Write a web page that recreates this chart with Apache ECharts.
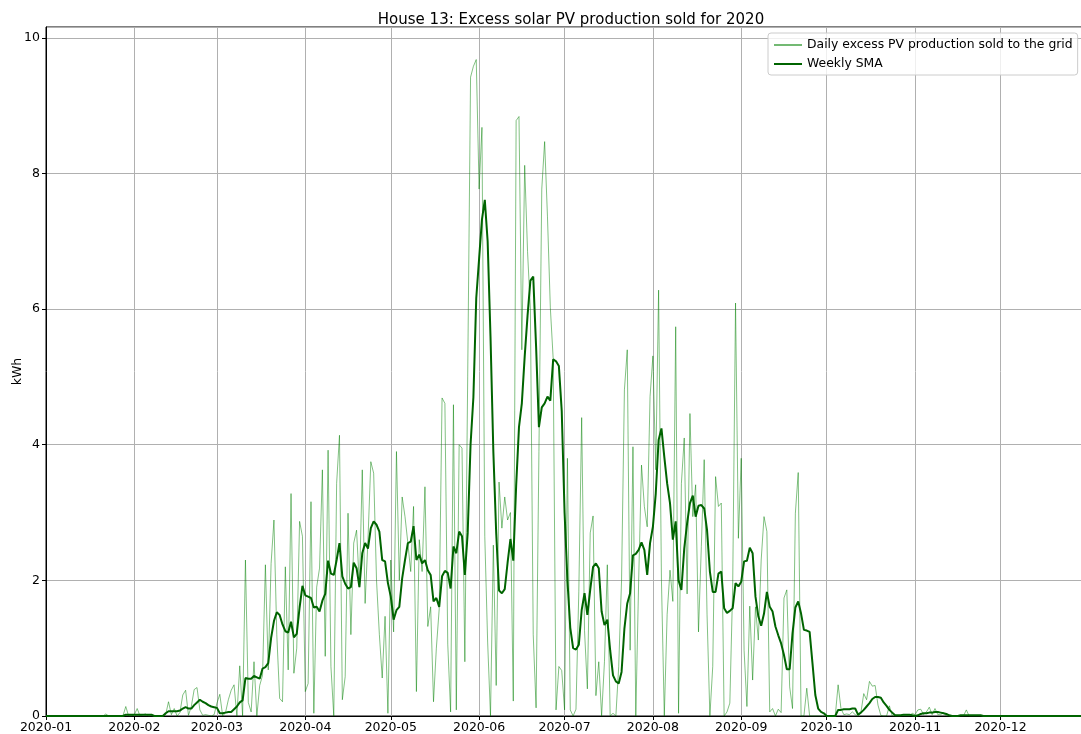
<!DOCTYPE html>
<html lang="en">
<head>
  <meta charset="UTF-8">
  <title>House 13: Excess solar PV production sold for 2020</title>
  <script src="https://cdn.jsdelivr.net/npm/echarts@6/dist/echarts.min.js"></script>
  <style>
    html, body { margin: 0; padding: 0; background: #fff; }
    #chart { width: 1081px; height: 734px; }
  </style>
</head>
<body>
<div id="chart"></div>
<script>
// one value per day, 2020-01-01 .. 2020-12-31 (kWh)
const dailySold = [
  0, 0, 0, 0, 0, 0, 0, 0, 0, 0,                              // 0
  0, 0, 0, 0, 0, 0, 0, 0, 0, 0,                              // 10
  0, 0.03, 0, 0, 0, 0, 0, 0, 0.14, 0,                        // 20
  0, 0.02, 0.11, 0, 0.02, 0.03, 0, 0, 0, 0,                  // 30
  0, 0, 0.02, 0.21, 0.02, 0.11, 0, 0.05, 0.31, 0.38,         // 40
  0.01, 0.14, 0.39, 0.42, 0.09, 0.01, 0.02, 0.01, 0, 0.02,   // 50
  0.19, 0.32, 0, 0.05, 0.24, 0.38, 0.46, 0, 0.74, 0,         // 60
  2.3, 0.2, 0.06, 0.8, 0, 0.45, 0.6, 2.23, 0.68, 2.25,       // 70
  2.89, 1.2, 0.26, 0.21, 2.2, 0.68, 3.28, 0.63, 1.0, 2.87,   // 80
  2.65, 0.36, 0.48, 3.16, 0.04, 1.9, 2.18, 3.63, 0.88, 3.92, // 90
  0.73, 0, 3.43, 4.14, 0.24, 0.58, 2.99, 1.2, 2.55, 2.74,    // 100
  1.9, 3.63, 1.66, 2.6, 3.75, 3.58, 2.0, 1.2, 0.56, 1.47,    // 110
  0.04, 2.3, 1.24, 3.9, 2.0, 3.23, 2.94, 2.55, 2.13, 3.09,   // 120
  0.36, 2.6, 2.13, 3.38, 1.32, 1.61, 0.21, 1.0, 1.58, 4.69,  // 130
  4.61, 1.06, 0.06, 4.59, 0.09, 4.0, 3.95, 0.8, 5.0, 9.42,   // 140
  9.58, 9.68, 7.77, 8.68, 2.65, 1.09, 0, 2.52, 0.45, 3.45,   // 150
  2.77, 3.23, 2.89, 3.0, 0.22, 8.78, 8.84, 5.4, 8.12, 6.85,  // 160
  6.0, 1.2, 0.12, 3.9, 7.77, 8.47, 7.36, 6.02, 5.27, 0.09,   // 170
  0.73, 0.67, 0.09, 3.8, 0.09, 0, 0.1, 1.84, 4.4, 1.26,      // 180
  0.4, 2.7, 2.95, 0.3, 0.8, 0, 0.8, 2.23, 0, 0.04,           // 190
  0, 0.73, 2.0, 4.81, 5.4, 0.97, 3.97, 0, 2.0, 3.7,          // 200
  3.09, 2.79, 4.71, 5.31, 3.63, 6.28, 2.0, 0, 1.5, 2.15,     // 210
  1.69, 5.74, 0.04, 3.43, 4.1, 1.8, 4.46, 2.94, 3.41, 1.24,  // 220
  2.5, 3.78, 1.5, 0, 0.73, 3.53, 3.09, 3.14, 0, 0.06,        // 230
  0.19, 1.9, 6.09, 2.62, 3.8, 0.97, 0.14, 1.62, 0.53, 1.61,  // 240
  1.12, 2.3, 2.94, 2.72, 0.06, 0.11, 0, 0.1, 0.05, 1.74,     // 250
  1.86, 0.43, 0.11, 2.99, 3.59, 0, 0, 0.41, 0, 0,            // 260
  0, 0, 0, 0, 0, 0, 0, 0, 0.46, 0.11,                        // 270
  0.02, 0.03, 0.02, 0.06, 0.02, 0, 0.05, 0.33, 0.24, 0.51,   // 280
  0.44, 0.45, 0.16, 0.01, 0, 0, 0.15, 0, 0, 0,               // 290
  0, 0, 0, 0, 0.04, 0.02, 0.09, 0.1, 0.02, 0.06,             // 300
  0.13, 0.02, 0.11, 0.02, 0.02, 0.05, 0, 0, 0, 0,            // 310
  0, 0, 0, 0.09, 0, 0, 0, 0, 0, 0,                           // 320
  0, 0, 0, 0, 0, 0, 0, 0, 0, 0,                              // 330
  0, 0, 0, 0, 0, 0, 0, 0, 0, 0,                              // 340
  0, 0, 0, 0, 0, 0, 0, 0, 0, 0,                              // 350
  0, 0, 0, 0, 0, 0                                           // 360
];

// weekly simple moving average
const weeklySma = [
  0, 0, 0, 0, 0, 0, 0, 0, 0, 0,                              // 0
  0, 0, 0, 0, 0, 0, 0, 0, 0, 0,                              // 10
  0, 0, 0, 0, 0, 0, 0, 0, 0.02, 0.02,                        // 20
  0.02, 0.02, 0.02, 0.02, 0.02, 0.02, 0.02, 0.02, 0, 0,      // 30
  0, 0, 0.04, 0.07, 0.07, 0.07, 0.07, 0.08, 0.11, 0.13,      // 40
  0.11, 0.11, 0.16, 0.2, 0.24, 0.21, 0.19, 0.16, 0.14, 0.13, // 50
  0.12, 0.04, 0.04, 0.05, 0.06, 0.06, 0.1, 0.14, 0.2, 0.23,  // 60
  0.56, 0.55, 0.55, 0.59, 0.57, 0.55, 0.7, 0.72, 0.78, 1.15, // 70
  1.4, 1.53, 1.49, 1.35, 1.25, 1.23, 1.39, 1.16, 1.21, 1.6,  // 80
  1.92, 1.78, 1.76, 1.74, 1.6, 1.61, 1.54, 1.7, 1.8, 2.29,   // 90
  2.1, 2.08, 2.3, 2.55, 2.06, 1.95, 1.88, 1.9, 2.26, 2.18,   // 100
  1.9, 2.4, 2.55, 2.47, 2.77, 2.87, 2.82, 2.72, 2.3, 2.28,   // 110
  1.96, 1.76, 1.42, 1.56, 1.61, 2.03, 2.3, 2.55, 2.57, 2.8,  // 120
  2.3, 2.38, 2.25, 2.3, 2.15, 2.08, 1.69, 1.74, 1.61, 2.06,  // 130
  2.14, 2.11, 1.88, 2.5, 2.4, 2.72, 2.65, 2.08, 2.7, 4.0,    // 140
  4.7, 6.16, 6.74, 7.32, 7.61, 7.0, 5.6, 3.9, 2.7, 1.85,     // 150
  1.81, 1.87, 2.26, 2.61, 2.29, 3.39, 4.26, 4.61, 5.3, 5.9,  // 160
  6.42, 6.48, 5.45, 4.26, 4.55, 4.61, 4.71, 4.65, 5.26, 5.23,// 170
  5.16, 4.5, 3.0, 2.0, 1.3, 1.0, 0.98, 1.05, 1.56, 1.81,     // 180
  1.49, 1.86, 2.2, 2.25, 2.18, 1.54, 1.34, 1.42, 0.97, 0.6,  // 190
  0.51, 0.48, 0.65, 1.29, 1.66, 1.81, 2.37, 2.39, 2.45, 2.56,// 200
  2.45, 2.08, 2.55, 2.79, 3.28, 4.07, 4.24, 3.82, 3.43, 3.14,// 210
  2.6, 2.87, 2.0, 1.86, 2.47, 2.84, 3.14, 3.25, 2.94, 3.1,   // 220
  3.11, 3.06, 2.74, 2.13, 1.83, 1.83, 2.1, 2.13, 1.59, 1.52, // 230
  1.55, 1.59, 1.96, 1.91, 1.98, 2.28, 2.29, 2.48, 2.4, 1.76, // 240
  1.47, 1.33, 1.51, 1.83, 1.61, 1.54, 1.32, 1.19, 1.07, 0.9, // 250
  0.69, 0.69, 1.22, 1.6, 1.69, 1.51, 1.27, 1.26, 1.24, 0.78, // 260
  0.31, 0.11, 0.06, 0.04, 0, 0, 0, 0, 0.09, 0.09,            // 270
  0.1, 0.1, 0.1, 0.11, 0.11, 0.02, 0.05, 0.09, 0.14, 0.19,   // 280
  0.25, 0.28, 0.28, 0.27, 0.2, 0.15, 0.09, 0.05, 0.01, 0.01, // 290
  0.01, 0.02, 0.02, 0.02, 0.01, 0, 0.01, 0.03, 0.04, 0.04,   // 300
  0.05, 0.05, 0.06, 0.06, 0.05, 0.04, 0.03, 0.01, 0, 0,      // 310
  0, 0.01, 0.01, 0.01, 0.01, 0.01, 0.01, 0.01, 0.01, 0,      // 320
  0, 0, 0, 0, 0, 0, 0, 0, 0, 0,                              // 330
  0, 0, 0, 0, 0, 0, 0, 0, 0, 0,                              // 340
  0, 0, 0, 0, 0, 0, 0, 0, 0, 0,                              // 350
  0, 0, 0, 0, 0, 0                                           // 360
];

const monthLabels = ['2020-01', '2020-02', '2020-03', '2020-04', '2020-05', '2020-06',
                     '2020-07', '2020-08', '2020-09', '2020-10', '2020-11', '2020-12'];
const seriesNames = ['Daily excess PV production sold to the grid', 'Weekly SMA'];

const dayOf = i => new Date(2020, 0, 1 + i).getTime();
const font = 'DejaVu Sans';

let myChart = echarts.init(document.getElementById('chart'));
let option = {
  animation: false,
  backgroundColor: '#fff',
  title: {
    text: 'House 13: Excess solar PV production sold for 2020',
    left: 566,
    textAlign: 'center',
    top: 8,
    textStyle: { fontFamily: font, fontSize: 15, fontWeight: 'normal', color: '#000' }
  },
  legend: {
    orient: 'vertical',
    left: 768,
    top: 33,
    padding: [5, 5, 4, 5],
    itemGap: 5,
    itemWidth: 28,
    itemHeight: 3,
    backgroundColor: 'rgba(255,255,255,0.8)',
    borderColor: '#cccccc',
    borderWidth: 1,
    borderRadius: 3,
    itemStyle: { opacity: 0, borderWidth: 0 },
    textStyle: { fontFamily: font, fontSize: 12.4, color: '#000', lineHeight: 14 },
    data: seriesNames
  },
  grid: {
    left: 46, right: -5, top: 27, bottom: 18,
    outerBoundsMode: 'none',
    containLabel: false,
    show: true, borderColor: '#000', borderWidth: 1
  },
  xAxis: {
    type: 'time',
    min: dayOf(0),
    max: dayOf(365),
    splitNumber: 12,
    axisLine: { lineStyle: { color: '#000', width: 1 } },
    axisTick: { show: true, length: 4, lineStyle: { color: '#000' } },
    axisLabel: {
      margin: 5,
      fontFamily: font, fontSize: 12.5, color: '#000',
      formatter: v => monthLabels[new Date(v).getMonth()]
    },
    splitLine: { show: true, lineStyle: { color: '#b0b0b0', width: 1 } }
  },
  yAxis: {
    type: 'value',
    min: 0,
    max: 10.16,
    interval: 2,
    name: 'kWh',
    nameLocation: 'middle',
    nameGap: 22,
    nameMoveOverlap: false,
    nameRotate: 90,
    nameTextStyle: { fontFamily: font, fontSize: 12.5, color: '#000' },
    axisLine: { show: true, lineStyle: { color: '#000', width: 1 } },
    axisTick: { show: true, length: 4, lineStyle: { color: '#000' } },
    axisLabel: { margin: 6, fontFamily: font, fontSize: 12.5, color: '#000', showMaxLabel: false },
    splitLine: { show: true, lineStyle: { color: '#b0b0b0', width: 1 } }
  },
  series: [
    {
      name: seriesNames[0],
      type: 'line',
      symbol: 'none',
      z: 2,
      lineStyle: { color: 'rgba(0,128,0,0.55)', width: 0.9 },
      itemStyle: { color: 'rgba(0,128,0,0.55)' },
      data: dailySold.map((v, i) => [dayOf(i), v])
    },
    {
      name: seriesNames[1],
      type: 'line',
      symbol: 'none',
      z: 3,
      lineStyle: { color: '#006400', width: 2 },
      itemStyle: { color: '#006400' },
      data: weeklySma.map((v, i) => [dayOf(i), v])
    }
  ]
};
myChart.setOption(option);
</script>
</body>
</html>
